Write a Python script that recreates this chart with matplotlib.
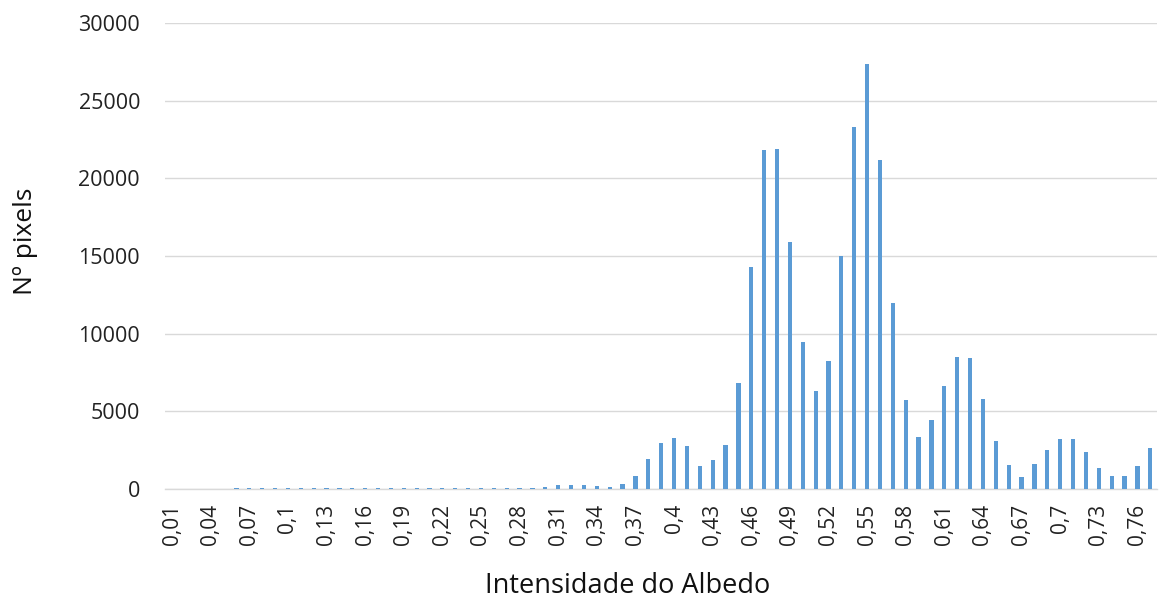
import matplotlib
matplotlib.use("Agg")
import matplotlib.pyplot as plt

categories = [
    0.01, 0.02, 0.03, 0.04, 0.05, 0.06, 0.07, 0.08, 0.09, 0.10,
    0.11, 0.12, 0.13, 0.14, 0.15, 0.16, 0.17, 0.18, 0.19, 0.20,
    0.21, 0.22, 0.23, 0.24, 0.25, 0.26, 0.27, 0.28, 0.29, 0.30,
    0.31, 0.32, 0.33, 0.34, 0.35, 0.36, 0.37, 0.38, 0.39, 0.40,
    0.41, 0.42, 0.43, 0.44, 0.45, 0.46, 0.47, 0.48, 0.49, 0.50,
    0.51, 0.52, 0.53, 0.54, 0.55, 0.56, 0.57, 0.58, 0.59, 0.60,
    0.61, 0.62, 0.63, 0.64, 0.65, 0.66, 0.67, 0.68, 0.69, 0.70,
    0.71, 0.72, 0.73, 0.74, 0.75, 0.76, 0.77,
]

pixel_counts = [
    0, 0, 0, 0, 0, 60, 60, 60, 60, 60,
    60, 60, 60, 60, 60, 60, 60, 60, 60, 60,
    60, 60, 60, 60, 60, 60, 60, 60, 50, 100,
    215, 260, 215, 150, 130, 300, 800, 1910, 2960, 3280,
    2770, 1440, 1870, 2820, 6800, 14310, 21820, 21870, 15880, 9460,
    6270, 8200, 15020, 23290, 27360, 21180, 11950, 5730, 3330, 4430,
    6590, 8500, 8440, 5790, 3110, 1520, 750, 1630, 2470, 3240,
    3180, 2380, 1350, 800, 800, 1480, 2640,
]

y_ticks = [0, 5000, 10000, 15000, 20000, 25000, 30000]

plt.rcParams['font.family'] = ['Open Sans', 'DejaVu Sans']

fig = plt.figure(figsize=(11.62, 6.02), dpi=100)
ax = fig.add_axes([0.142, 0.188, 0.854, 0.774])

x = list(range(len(categories)))
ax.bar(x, pixel_counts, width=0.33, color='#5B9BD5', zorder=3)

ax.set_xlim(-0.55, len(categories) - 0.45)
ax.set_ylim(0, 30000)
ax.set_yticks(y_ticks)
ax.set_yticklabels([str(v) for v in y_ticks], fontsize=15.5, color='#222222')

tick_idx = x[::3]
labels = [f"{categories[i]:g}".replace('.', ',') for i in tick_idx]
ax.set_xticks(tick_idx)
ax.set_xticklabels(labels, rotation=90, fontsize=15, color='#222222')

ax.tick_params(axis='both', length=0)
ax.tick_params(axis='y', pad=18)
ax.tick_params(axis='x', pad=11)
ax.grid(axis='y', color='#D9D9D9', linewidth=1, zorder=0)
for s in ['top', 'right', 'left']:
    ax.spines[s].set_visible(False)
ax.spines['bottom'].set_color('#D9D9D9')
ax.spines['bottom'].set_linewidth(1)

ax.set_ylabel('Nº pixels', fontsize=19, color='#111111')
ax.yaxis.set_label_coords(-0.128, 0.532)
ax.set_xlabel('Intensidade do Albedo', fontsize=19.5, color='#111111')
ax.xaxis.set_label_coords(0.466, -0.178)

fig.savefig('out.png', dpi=100, facecolor='white')
